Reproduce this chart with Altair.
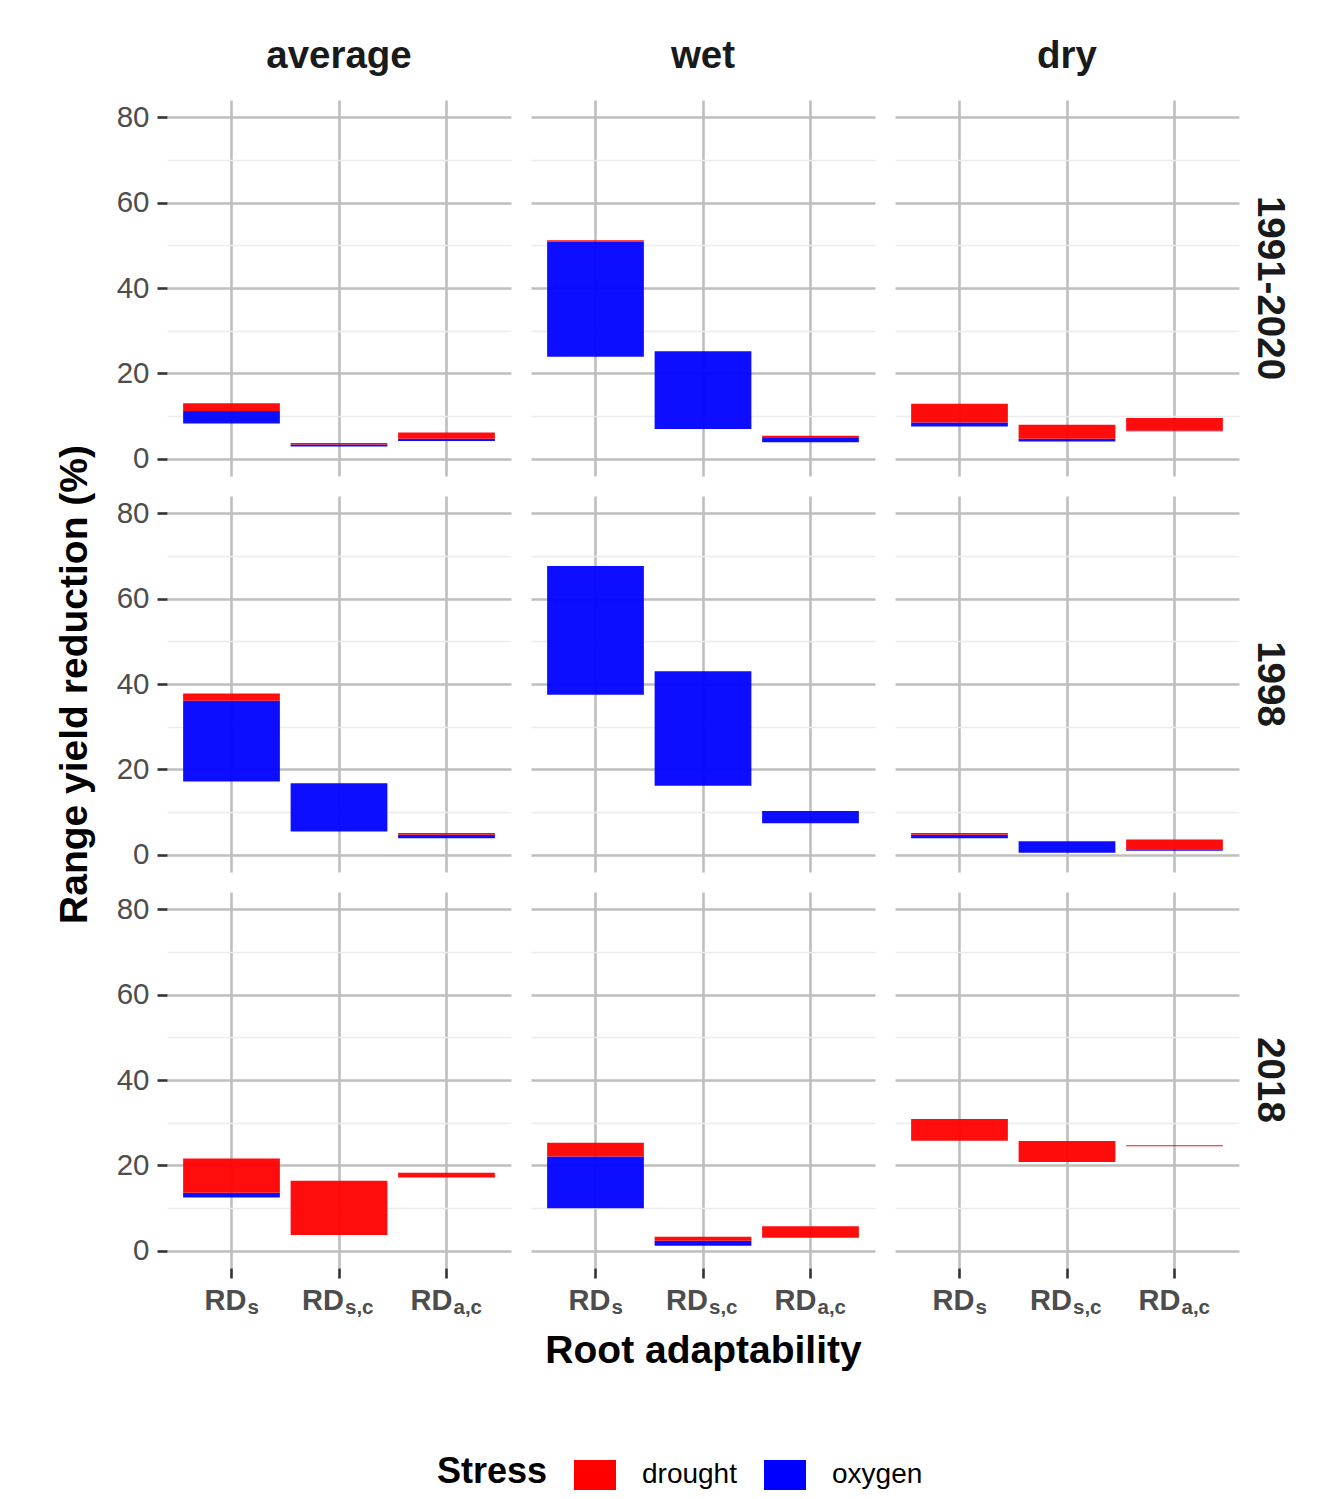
import altair as alt
import pandas as pd

# ---------------- data ----------------
categories = ["RDs", "RDs,c", "RDa,c"]
tick_main = ["RD", "RD", "RD"]
tick_sub = ["s", "s,c", "a,c"]
scenarios = ["average", "wet", "dry"]
periods = ["1991-2020", "1998", "2018"]
stresses = ["drought", "oxygen"]

# values per period, ordered scenario x category:
# average(RDs, RDs,c, RDa,c), wet(...), dry(...)
oxygen_low = {
    "1991-2020": [8.3, 2.9, 4.2, 23.9, 7.0, 3.9, 7.6, 4.1, 6.5],
    "1998": [17.2, 5.5, 3.9, 37.5, 16.2, 7.4, 3.9, 0.5, 1.0],
    "2018": [12.5, 3.7, 17.2, 10.0, 1.2, 3.1, 25.8, 20.8, 24.5],
}
oxygen_high = {
    "1991-2020": [11.2, 3.4, 4.7, 50.8, 25.2, 4.9, 8.5, 4.7, 6.6],
    "1998": [36.1, 16.8, 4.7, 67.6, 43.0, 10.3, 4.7, 3.2, 1.3],
    "2018": [13.6, 3.7, 17.2, 22.1, 2.4, 3.1, 25.8, 20.8, 24.5],
}
drought_high = {
    "1991-2020": [13.0, 3.7, 6.2, 51.2, 25.2, 5.4, 12.9, 8.0, 9.6],
    "1998": [37.8, 16.8, 5.1, 67.6, 43.0, 10.3, 5.1, 3.2, 3.6],
    "2018": [21.6, 16.4, 18.3, 25.3, 3.3, 5.8, 30.9, 25.7, 24.7],
}

rows = []
for p in periods:
    for si, s in enumerate(scenarios):
        for ci, c in enumerate(categories):
            k = si * 3 + ci
            rows.append(dict(period=p, scenario=s, cat=c, stress="oxygen",
                             lo=oxygen_low[p][k], hi=oxygen_high[p][k]))
            rows.append(dict(period=p, scenario=s, cat=c, stress="drought",
                             lo=oxygen_high[p][k], hi=drought_high[p][k]))
df = pd.DataFrame(rows)

# ---------------- styling ----------------
W, H = 344, 376
FONT = "Liberation Sans"
GRID = "#bebebe"
MINOR = "#ececec"
TXT = "#4d4d4d"
sub_dx = {"RDs": 15, "RDs,c": 5, "RDa,c": 6}

yscale = alt.Scale(domain=[-4, 84], nice=False, zero=False)
xscale = alt.Scale(domain=categories, paddingInner=0.1, paddingOuter=0.15)
cscale = alt.Scale(domain=stresses, range=["#ff0000", "#0000ff"])

is_major = "datum.value % 20 === 0"
grid_color = {"condition": {"test": is_major, "value": GRID}, "value": MINOR}
grid_width = {"condition": {"test": is_major, "value": 2.6}, "value": 1.3}


def make_panel(ri, ci):
    p = periods[ri]
    s = scenarios[ci]
    sub = df[(df.period == p) & (df.scenario == s)]

    yaxis_kw = dict(values=list(range(0, 81, 10)), domain=False, grid=True,
                    gridColor=grid_color, gridWidth=grid_width)
    if ci == 0:
        yaxis_kw.update(labelFontSize=29.5, labelColor=TXT, labelPadding=8,
                        labelExpr="datum.value % 20 === 0 ? datum.label : ''",
                        tickColor="#333333", tickWidth=2.6, tickSize=10,
                        tickOpacity={"condition": {"test": is_major, "value": 1}, "value": 0})
        if ri == 1:
            yaxis_kw.update(titleFontSize=39, titleFontWeight="bold",
                            titleColor="black", titlePadding=22)
    else:
        yaxis_kw.update(labels=False, ticks=False)

    xaxis_kw = dict(labels=False, domain=False, grid=True, gridColor=GRID,
                    gridWidth=2.6, bandPosition=0.5)
    if ri == 2:
        xaxis_kw.update(ticks=True, tickColor="#333333", tickWidth=2.6, tickSize=10)
        if ci == 1:
            xaxis_kw.update(titleFontSize=39, titleFontWeight="bold",
                            titleColor="black", titlePadding=52)
    else:
        xaxis_kw.update(ticks=False)

    ytitle = "Range yield reduction (%)" if (ci == 0 and ri == 1) else None
    xtitle = "Root adaptability" if (ci == 1 and ri == 2) else None

    if ri == 2 and ci == 1:
        color = alt.Color("stress:N", scale=cscale, legend=alt.Legend(
            orient="none", legendX=-94, legendY=562, direction="horizontal",
            titleOrient="left", title="Stress", titleFontSize=36,
            titleFontWeight="bold", titleColor="black", titlePadding=26,
            titleBaseline="middle", titleAnchor="middle",
            labelFontSize=28, labelColor="black", labelOffset=26,
            columnPadding=27, symbolType="M-1,-0.714L1,-0.714L1,0.714L-1,0.714Z",
            symbolSize=1764, symbolStrokeWidth=0, symbolOpacity=1))
    else:
        color = alt.Color("stress:N", scale=cscale, legend=None)

    def x_enc():
        e = alt.X("cat:N", scale=xscale, axis=alt.Axis(**xaxis_kw), sort=categories)
        return e.title(xtitle) if xtitle else e.title(None)

    y_enc = alt.Y("lo:Q", scale=yscale, axis=alt.Axis(**yaxis_kw))
    y_enc = y_enc.title(ytitle) if ytitle else y_enc.title(None)

    bars = alt.Chart(sub).mark_bar(opacity=0.95).encode(
        x=x_enc(), y=y_enc, y2="hi:Q", color=color)

    layers = [bars]

    if ri == 2:
        for c, m, sb in zip(categories, tick_main, tick_sub):
            d = alt.Data(values=[{"cat": c, "main": m, "sub": sb}])
            layers.append(alt.Chart(d).mark_text(
                align="right", baseline="alphabetic", dx=sub_dx[c],
                fontSize=29, fontWeight="bold", color=TXT, font=FONT).encode(
                x=x_enc(), y=alt.value(H + 42), text="main:N"))
            layers.append(alt.Chart(d).mark_text(
                align="left", baseline="alphabetic", dx=sub_dx[c] + 1,
                fontSize=20.5, fontWeight="bold", color=TXT, font=FONT).encode(
                x=x_enc(), y=alt.value(H + 46), text="sub:N"))

    if ci == 2:
        d = alt.Data(values=[{"lab": p}])
        layers.append(alt.Chart(d).mark_text(
            angle=90, align="center", baseline="middle", fontSize=38.5,
            fontWeight="bold", color="#1a1a1a", font=FONT).encode(
            x=alt.value(W + 31), y=alt.value(H / 2), text="lab:N"))

    ch = alt.layer(*layers).properties(width=W, height=H)
    if ri == 0:
        ch = ch.properties(title=alt.TitleParams(
            text=s, fontSize=38.5, fontWeight="bold", color="#1a1a1a",
            anchor="middle", offset=24, font=FONT))
    return ch


panels = [make_panel(r, c) for r in range(3) for c in range(3)]

chart = alt.concat(*panels, columns=3, spacing=20, bounds="flush").properties(
    padding={"left": 55, "top": 36, "right": 5, "bottom": 5}
).resolve_scale(color="independent").configure(
    font=FONT, background="white", view=alt.ViewConfig(stroke=None)
)

chart.save("out.html", embed_options={"renderer": "svg", "actions": False})
